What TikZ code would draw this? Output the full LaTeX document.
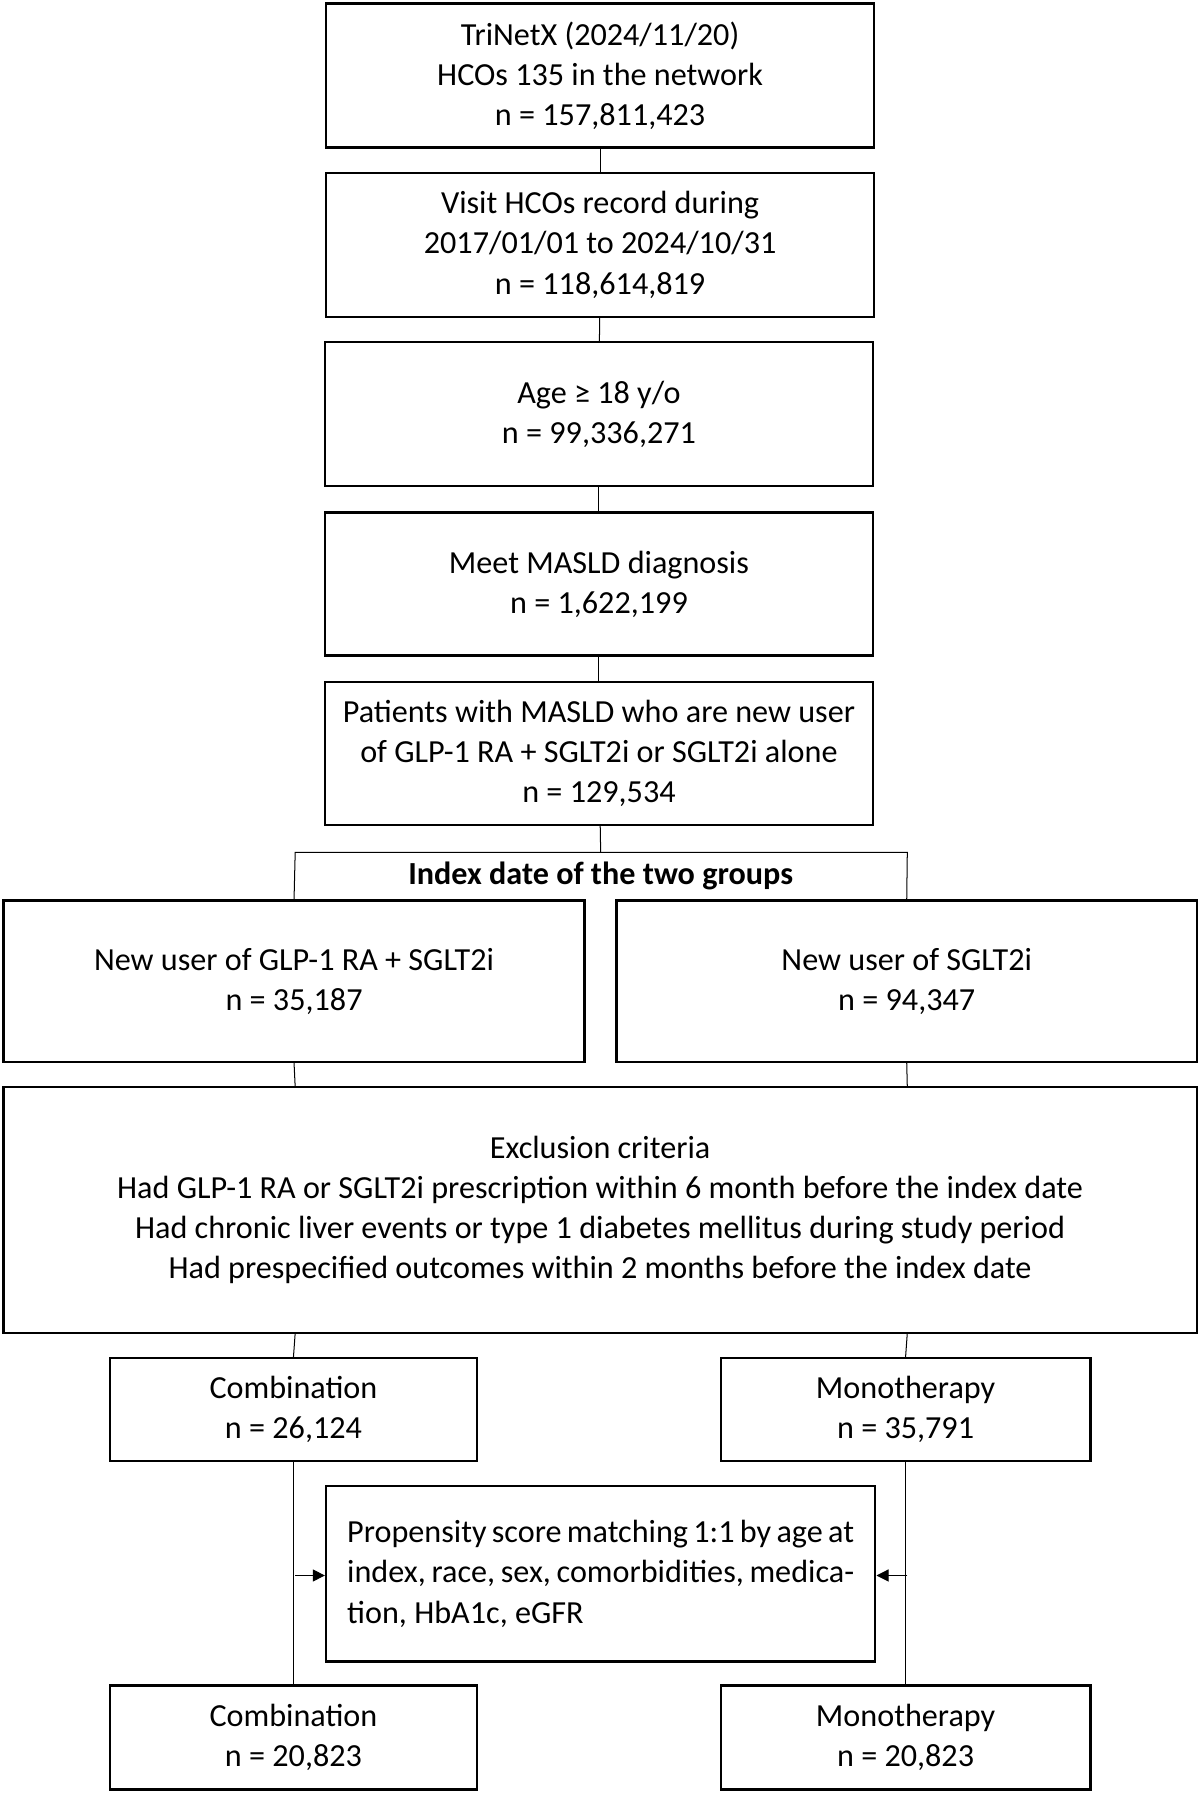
\documentclass[tikz,border=0pt]{standalone}
\usepackage{fontspec}
\setmainfont{Carlito}
\usetikzlibrary{arrows.meta}
\begin{document}
\begin{tikzpicture}[x=0.02cm,y=-0.02cm,
  box/.style={draw,line width=1.2pt,inner sep=0pt,font=\fontsize{16}{20}\selectfont,align=center},
  ln/.style={line width=0.5pt}]
\useasboundingbox (0,0) rectangle (1050,1568);
\def\bx#1#2#3#4#5#6{\node[box,minimum width={(#4-#2)*0.02cm},minimum height={(#5-#3)*0.02cm}] (#1) at ({(#2+#4)/2},{(#3+#5)/2}) {#6};}
\bx{a}{285}{3}{764}{129}{TriNetX (2024/11/20)\\HCOs 135 in the network\\n = 157,811,423}
\bx{b}{285}{151}{764}{277}{Visit HCOs record during\\2017/01/01 to 2024/10/31\\n = 118,614,819}
\bx{c}{284}{299}{763}{425}{Age ≥ 18 y/o\\n = 99,336,271}
\bx{d}{284}{448}{763}{573}{Meet MASLD diagnosis\\n = 1,622,199}
\bx{e}{284}{596}{763}{721}{Patients with MASLD who are new user\\of GLP-1 RA + SGLT2i or SGLT2i alone\\n = 129,534}
\bx{l}{3}{787}{511}{928}{New user of GLP-1 RA + SGLT2i\\n = 35,187}
\bx{r}{539}{787}{1046}{928}{New user of SGLT2i\\n = 94,347}
\bx{x}{3}{950}{1046}{1165}{Exclusion criteria\\Had GLP-1 RA or SGLT2i prescription within 6 month before the index date\\Had chronic liver events or type 1 diabetes mellitus during study period\\Had prespecified outcomes within 2 months before the index date}
\bx{cl}{96}{1187}{417}{1277}{Combination\\n = 26,124}
\bx{cr}{630}{1187}{953}{1277}{Monotherapy\\n = 35,791}
\node[box,minimum width={480*0.02cm},minimum height={153*0.02cm}] (p) at (525,1375.5) {};
\node[font=\fontsize{16}{20}\selectfont,text width={443*0.02cm},align=justify,inner sep=0pt] (pt) at (p.center) {Propensity score matching 1:1 by age at index, race, sex, comorbidities, medication, HbA1c, eGFR};
\bx{fl}{96}{1473}{417}{1564}{Combination\\n = 20,823}
\bx{fr}{630}{1473}{953}{1564}{Monotherapy\\n = 20,823}
\draw[ln] (a) -- (b); \draw[ln] (b) -- (c); \draw[ln] (c) -- (d); \draw[ln] (d) -- (e);
\coordinate (m) at (525,745);
\draw[ln] (e) -- (m);
\draw[ln] (l.north) -- (258,745) -- (793,745) -- (r.north);
\node[font=\fontsize{16}{20}\selectfont\bfseries] (idx) at (525,766) {Index date of the two groups};
\draw[ln] (l.south) -- (258,950); \draw[ln] (r.south) -- (793,950);
\draw[ln] (258,1165) -- (cl.north); \draw[ln] (793,1165) -- (cr.north);
\draw[ln] (cl.south) -- (fl.north); \draw[ln] (cr.south) -- (fr.north);
\draw[ln,-{Triangle[length=6pt,width=6pt]}] (258,1377) -- (p.west|-0,1377);
\draw[ln,-{Triangle[length=6pt,width=6pt]}] (793,1377) -- (p.east|-0,1377);
\end{tikzpicture}
\end{document}
